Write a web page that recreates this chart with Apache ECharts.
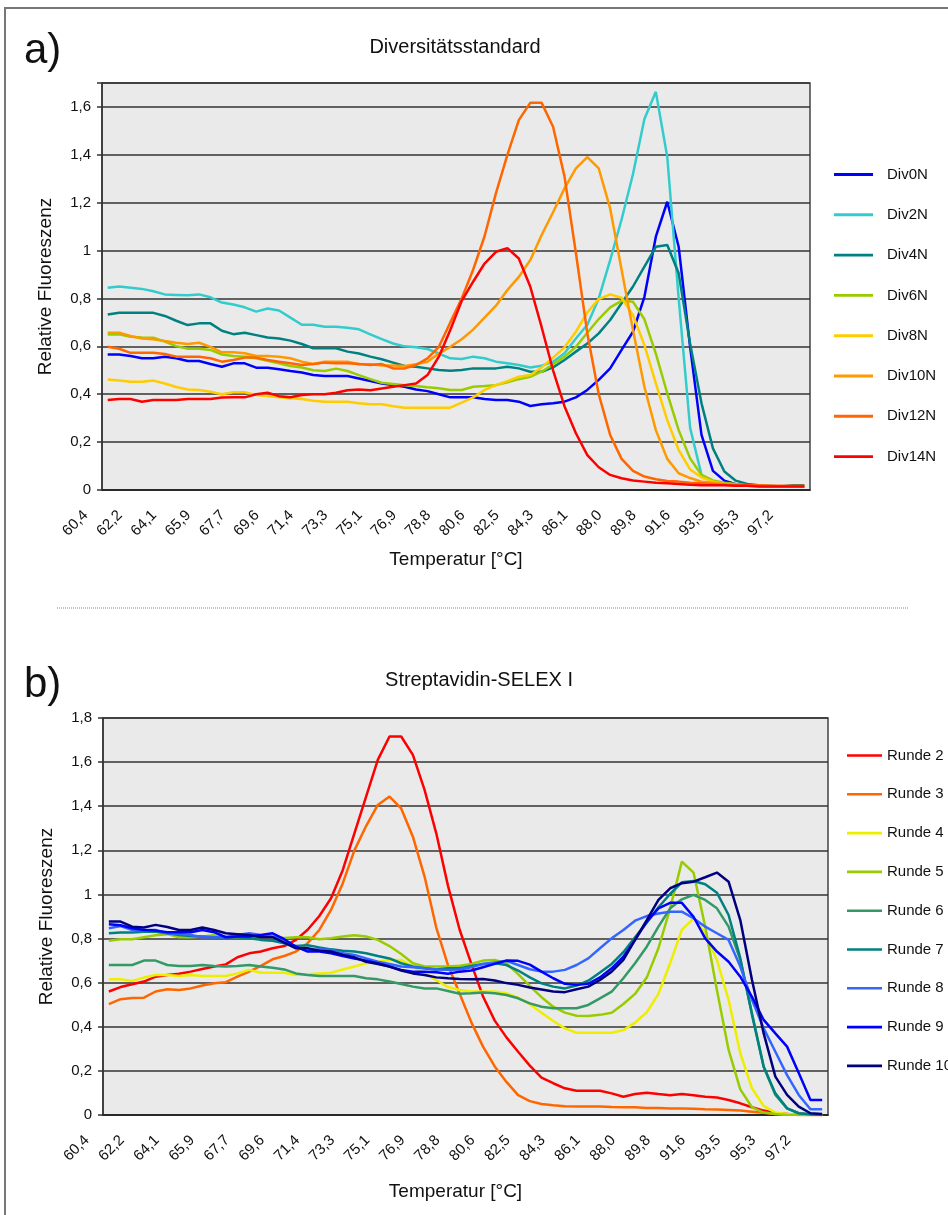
<!DOCTYPE html>
<html><head><meta charset="utf-8">
<script src="https://cdn.jsdelivr.net/npm/echarts@6/dist/echarts.min.js"></script>
<style>html,body{margin:0;padding:0;background:#fff}#c{width:948px;height:1215px}</style>
</head><body><div id="c"></div>
<script>
// Temperature categories (°C)
const temps = [
 '60,4','61,0','61,6','62,2','62,8','63,5','64,1','64,7','65,3','65,9',
 '66,5','67,1','67,7','68,4','69,0','69,6','70,2','70,8','71,4','72,0',
 '72,6','73,3','73,9','74,5','75,1','75,7','76,3','76,9','77,5','78,2',
 '78,8','79,4','80,0','80,6','81,2','81,8','82,5','83,1','83,7','84,3',
 '84,9','85,5','86,1','86,7','87,4','88,0','88,6','89,2','89,8','90,4',
 '91,0','91,6','92,3','92,9','93,5','94,1','94,7','95,3','95,9','96,5',
 '97,2','97,8'];

// Panel a) Diversitätsstandard
const div0N = [
 0.566,0.566,0.56,0.55,0.55,0.557,0.55,0.539,0.539,0.526,
 0.515,0.529,0.529,0.511,0.511,0.504,0.497,0.491,0.48,0.476,
 0.476,0.476,0.466,0.455,0.445,0.438,0.431,0.42,0.413,0.40,
 0.387,0.387,0.387,0.38,0.376,0.376,0.369,0.351,0.358,0.362,
 0.369,0.387,0.418,0.46,0.508,0.585,0.661,0.807,1.058,1.204,
 1.016,0.598,0.23,0.08,0.039,0.024,0.02,0.018,0.015,0.015,
 0.015,0.015];
const div2N = [
 0.845,0.85,0.845,0.84,0.83,0.817,0.815,0.813,0.817,0.805,
 0.783,0.775,0.763,0.745,0.758,0.75,0.72,0.69,0.69,0.682,
 0.682,0.678,0.671,0.65,0.63,0.612,0.60,0.596,0.589,0.57,
 0.55,0.547,0.557,0.55,0.536,0.529,0.522,0.512,0.519,0.536,
 0.571,0.633,0.69,0.80,0.96,1.13,1.32,1.55,1.663,1.392,
 0.80,0.26,0.063,0.03,0.025,0.02,0.02,0.018,0.018,0.015,
 0.015,0.015];
const div4N = [
 0.733,0.74,0.74,0.74,0.74,0.727,0.707,0.689,0.696,0.696,
 0.665,0.651,0.657,0.647,0.637,0.633,0.624,0.61,0.592,0.592,
 0.592,0.578,0.57,0.557,0.546,0.532,0.518,0.515,0.508,0.501,
 0.498,0.501,0.508,0.508,0.508,0.515,0.508,0.494,0.494,0.512,
 0.543,0.578,0.612,0.654,0.71,0.78,0.85,0.933,1.016,1.023,
 0.905,0.612,0.362,0.174,0.077,0.039,0.025,0.02,0.015,0.015,
 0.02,0.02];
const div6N = [
 0.65,0.65,0.64,0.637,0.636,0.62,0.601,0.59,0.59,0.585,
 0.566,0.56,0.557,0.55,0.54,0.529,0.518,0.512,0.50,0.497,
 0.507,0.497,0.48,0.463,0.448,0.443,0.438,0.434,0.429,0.425,
 0.418,0.418,0.431,0.434,0.438,0.45,0.463,0.473,0.494,0.525,
 0.557,0.598,0.657,0.714,0.763,0.79,0.786,0.713,0.57,0.404,
 0.25,0.132,0.063,0.04,0.03,0.025,0.02,0.018,0.015,0.015,
 0.015,0.015];
const div8N = [
 0.462,0.457,0.452,0.452,0.457,0.445,0.43,0.42,0.418,0.41,
 0.40,0.408,0.408,0.397,0.393,0.387,0.383,0.38,0.373,0.369,
 0.369,0.369,0.362,0.358,0.358,0.35,0.344,0.344,0.344,0.344,
 0.344,0.365,0.387,0.418,0.438,0.455,0.473,0.48,0.512,0.553,
 0.596,0.661,0.742,0.797,0.817,0.803,0.73,0.605,0.445,0.292,
 0.167,0.086,0.053,0.035,0.025,0.02,0.018,0.015,0.015,0.015,
 0.015,0.015];
const div10N = [
 0.657,0.657,0.643,0.633,0.63,0.622,0.615,0.61,0.615,0.598,
 0.575,0.575,0.571,0.56,0.56,0.557,0.55,0.536,0.526,0.536,
 0.536,0.536,0.525,0.525,0.52,0.52,0.518,0.525,0.536,0.57,
 0.598,0.63,0.67,0.72,0.77,0.835,0.89,0.96,1.065,1.16,
 1.26,1.343,1.39,1.343,1.176,0.92,0.668,0.43,0.25,0.13,
 0.07,0.05,0.035,0.03,0.025,0.02,0.02,0.018,0.018,0.015,
 0.015,0.015];
const div12N = [
 0.598,0.59,0.573,0.573,0.573,0.568,0.557,0.557,0.557,0.55,
 0.536,0.543,0.553,0.553,0.543,0.536,0.529,0.522,0.526,0.532,
 0.529,0.529,0.526,0.522,0.526,0.508,0.508,0.522,0.55,0.598,
 0.70,0.80,0.92,1.06,1.24,1.40,1.545,1.617,1.617,1.517,
 1.31,0.99,0.654,0.40,0.23,0.13,0.08,0.056,0.045,0.038,
 0.035,0.03,0.028,0.025,0.022,0.02,0.02,0.02,0.018,0.018,
 0.018,0.018];
const div14N = [
 0.376,0.38,0.38,0.369,0.376,0.376,0.376,0.38,0.38,0.38,
 0.386,0.387,0.387,0.40,0.406,0.392,0.387,0.397,0.40,0.40,
 0.406,0.417,0.42,0.417,0.424,0.431,0.438,0.445,0.48,0.557,
 0.668,0.79,0.87,0.946,0.995,1.01,0.967,0.85,0.68,0.50,
 0.35,0.237,0.146,0.095,0.063,0.049,0.04,0.035,0.03,0.028,
 0.025,0.022,0.02,0.02,0.02,0.018,0.018,0.015,0.015,0.015,
 0.015,0.015];

// Panel b) Streptavidin-SELEX I
const runde2 = [
 0.56,0.58,0.593,0.605,0.627,0.635,0.64,0.65,0.662,0.673,
 0.683,0.715,0.733,0.741,0.756,0.766,0.794,0.84,0.902,0.983,
 1.11,1.277,1.444,1.61,1.716,1.716,1.633,1.474,1.277,1.04,
 0.84,0.685,0.537,0.428,0.352,0.287,0.224,0.169,0.144,0.121,
 0.11,0.11,0.11,0.098,0.083,0.095,0.101,0.095,0.09,0.095,
 0.09,0.083,0.079,0.068,0.053,0.035,0.02,0.008,0.004,0,
 0,0];
const runde3 = [
 0.503,0.525,0.53,0.532,0.56,0.57,0.567,0.574,0.587,0.597,
 0.602,0.627,0.65,0.676,0.706,0.721,0.741,0.779,0.839,0.93,
 1.05,1.20,1.31,1.406,1.444,1.39,1.262,1.081,0.85,0.68,
 0.55,0.42,0.31,0.22,0.15,0.09,0.063,0.05,0.044,0.04,
 0.038,0.038,0.038,0.036,0.035,0.035,0.032,0.032,0.03,0.03,
 0.028,0.026,0.025,0.023,0.02,0.015,0.01,0.005,0.003,0,
 0,0];
const runde4 = [
 0.615,0.615,0.608,0.623,0.635,0.635,0.63,0.635,0.63,0.63,
 0.63,0.642,0.658,0.645,0.645,0.645,0.635,0.638,0.642,0.645,
 0.66,0.673,0.688,0.695,0.703,0.703,0.673,0.642,0.612,0.58,
 0.567,0.56,0.56,0.56,0.552,0.532,0.502,0.464,0.426,0.393,
 0.373,0.373,0.373,0.373,0.385,0.419,0.466,0.549,0.688,0.839,
 0.892,0.824,0.703,0.522,0.28,0.121,0.041,0.011,0.005,0,
 0,0];
const runde5 = [
 0.79,0.797,0.797,0.806,0.815,0.82,0.806,0.806,0.809,0.815,
 0.809,0.806,0.806,0.806,0.806,0.803,0.806,0.806,0.797,0.801,
 0.809,0.815,0.809,0.794,0.766,0.73,0.688,0.673,0.673,0.673,
 0.677,0.685,0.70,0.703,0.688,0.639,0.585,0.534,0.491,0.464,
 0.45,0.449,0.454,0.464,0.503,0.549,0.623,0.756,0.937,1.149,
 1.099,0.854,0.567,0.295,0.116,0.035,0.011,0.005,0,0,
 0,0];
const runde6 = [
 0.68,0.68,0.68,0.70,0.70,0.68,0.676,0.676,0.68,0.676,
 0.673,0.676,0.68,0.673,0.668,0.66,0.642,0.635,0.63,0.63,
 0.63,0.63,0.62,0.615,0.605,0.594,0.582,0.574,0.574,0.562,
 0.55,0.552,0.555,0.552,0.544,0.529,0.506,0.491,0.484,0.484,
 0.484,0.499,0.529,0.559,0.62,0.688,0.763,0.854,0.937,0.978,
 0.998,0.975,0.937,0.854,0.703,0.461,0.219,0.091,0.03,0.008,
 0.003,0];
const runde7 = [
 0.824,0.828,0.828,0.831,0.831,0.824,0.816,0.812,0.809,0.806,
 0.806,0.806,0.801,0.794,0.79,0.779,0.766,0.77,0.76,0.751,
 0.745,0.741,0.733,0.721,0.71,0.688,0.673,0.665,0.66,0.665,
 0.665,0.676,0.685,0.688,0.68,0.655,0.624,0.597,0.582,0.574,
 0.587,0.609,0.646,0.685,0.738,0.806,0.872,0.942,1.002,1.055,
 1.061,1.046,1.008,0.907,0.711,0.454,0.219,0.098,0.03,0.008,
 0.003,0];
const runde8 = [
 0.847,0.857,0.839,0.839,0.839,0.824,0.821,0.816,0.806,0.806,
 0.806,0.816,0.824,0.816,0.809,0.794,0.763,0.745,0.751,0.748,
 0.733,0.726,0.71,0.695,0.685,0.673,0.67,0.665,0.66,0.658,
 0.66,0.67,0.685,0.692,0.699,0.68,0.661,0.65,0.65,0.658,
 0.68,0.71,0.756,0.801,0.839,0.881,0.902,0.914,0.922,0.922,
 0.892,0.854,0.824,0.794,0.673,0.522,0.393,0.287,0.181,0.091,
 0.026,0.026];
const runde9 = [
 0.865,0.86,0.847,0.839,0.836,0.829,0.829,0.829,0.839,0.829,
 0.806,0.809,0.809,0.816,0.824,0.797,0.763,0.741,0.741,0.733,
 0.721,0.71,0.70,0.688,0.673,0.658,0.65,0.65,0.647,0.64,
 0.65,0.655,0.67,0.685,0.70,0.699,0.682,0.65,0.62,0.595,
 0.59,0.595,0.624,0.665,0.718,0.794,0.877,0.937,0.962,0.962,
 0.899,0.801,0.741,0.695,0.627,0.536,0.431,0.37,0.31,0.19,
 0.068,0.068];
const runde10 = [
 0.877,0.877,0.854,0.85,0.862,0.852,0.839,0.839,0.85,0.839,
 0.824,0.82,0.816,0.806,0.806,0.782,0.756,0.756,0.745,0.741,
 0.726,0.715,0.695,0.685,0.673,0.655,0.642,0.635,0.624,0.62,
 0.617,0.615,0.617,0.61,0.598,0.59,0.578,0.569,0.56,0.557,
 0.57,0.582,0.612,0.65,0.703,0.794,0.884,0.975,1.028,1.051,
 1.058,1.078,1.099,1.058,0.884,0.612,0.37,0.174,0.091,0.038,
 0.008,0.005];

const namesA = ['Div0N','Div2N','Div4N','Div6N','Div8N','Div10N','Div12N','Div14N'];
const dataA = [div0N,div2N,div4N,div6N,div8N,div10N,div12N,div14N];
const colorsA = ['#0000FF','#33CCCC','#008080','#99CC00','#FFCC00','#FF9900','#FF6600','#FF0000'];
const namesB = ['Runde 2','Runde 3','Runde 4','Runde 5','Runde 6','Runde 7','Runde 8','Runde 9','Runde 10'];
const dataB = [runde2,runde3,runde4,runde5,runde6,runde7,runde8,runde9,runde10];
const colorsB = ['#FF0000','#FF6600','#EEEE00','#99CC00','#339966','#008080','#3366FF','#0000FF','#000080'];

const FONT = '"Liberation Sans", Arial, Helvetica, sans-serif';
const TXT = '#111';
const LEG_ICON = 'path://M0,0 L40,0 L40,3 L0,3 Z';

function yAxis(gi, max) {
  return {
    type: 'value', gridIndex: gi, min: 0, max: max, interval: 0.2,
    axisLine: {show: true, lineStyle: {color: '#333', width: 1.5}},
    axisTick: {show: true, length: 5, lineStyle: {color: '#333', width: 1.5}},
    axisLabel: {margin: 11, fontSize: 15, color: TXT, fontFamily: FONT,
      formatter: v => (Math.abs(v - max) < 1e-6 && max === 1.7) ? '' : String(Math.round(v * 10) / 10).replace('.', ',')},
    splitLine: {show: true, lineStyle: {color: '#333', width: 1.6}},
    name: 'Relative Fluoreszenz', nameLocation: 'middle', nameGap: 47,
    nameTextStyle: {fontSize: 19, color: TXT, fontFamily: FONT}
  };
}
function xAxis(gi, gap, pad) {
  return {
    type: 'category', gridIndex: gi, data: temps, boundaryGap: true,
    axisLine: {lineStyle: {color: '#222', width: 1.5}},
    axisTick: {interval: 0, length: 5, lineStyle: {color: '#222', width: 1.5}},
    axisLabel: {interval: 2, rotate: 45, margin: 1, padding: [0, 31, 0, 0], fontSize: 15, color: TXT, fontFamily: FONT},
    splitLine: {show: false},
    name: 'Temperatur [°C]', nameLocation: 'middle', nameGap: gap,
    nameTextStyle: {fontSize: 19, color: TXT, fontFamily: FONT, padding: pad}
  };
}

const series = [];
namesA.forEach((n, i) => series.push({
  name: n, type: 'line', xAxisIndex: 0, yAxisIndex: 0, data: dataA[i],
  symbol: 'none', color: colorsA[i], lineStyle: {width: 2.5, color: colorsA[i]}, animation: false
}));
namesB.forEach((n, i) => series.push({
  name: n, type: 'line', xAxisIndex: 1, yAxisIndex: 1, data: dataB[i],
  symbol: 'none', color: colorsB[i], lineStyle: {width: 2.5, color: colorsB[i]}, animation: false
}));

const chart = echarts.init(document.getElementById('c'), null, {renderer: 'canvas'});
chart.setOption({
  animation: false,
  backgroundColor: '#fff',
  textStyle: {fontFamily: FONT},
  title: [
    {text: 'a)', left: 24, top: 30, padding: 0, textStyle: {fontSize: 42, fontWeight: 'normal', color: TXT, fontFamily: FONT}},
    {text: 'Diversitätsstandard', left: 455, top: 37, padding: 0, textAlign: 'center', textStyle: {fontSize: 20, fontWeight: 'normal', color: TXT, fontFamily: FONT}},
    {text: 'b)', left: 24, top: 664, padding: 0, textStyle: {fontSize: 42, fontWeight: 'normal', color: TXT, fontFamily: FONT}},
    {text: 'Streptavidin-SELEX I', left: 479, top: 670, padding: 0, textAlign: 'center', textStyle: {fontSize: 20, fontWeight: 'normal', color: TXT, fontFamily: FONT}}
  ],
  grid: [
    {left: 102, top: 83, width: 708, height: 407, show: true, backgroundColor: '#EAEAEA', borderColor: '#444', borderWidth: 1.5},
    {left: 103, top: 718, width: 725, height: 397, show: true, backgroundColor: '#EAEAEA', borderColor: '#444', borderWidth: 1.5}
  ],
  xAxis: [xAxis(0, 60, 0), xAxis(1, 67, [0, 20, 0, 0])],
  yAxis: [yAxis(0, 1.7), yAxis(1, 1.8)],
  legend: [
    {data: namesA.map(n => ({name: n, icon: LEG_ICON})), orient: 'vertical', left: 834, top: 167, padding: 0,
     itemWidth: 39, itemHeight: 14, itemGap: 25.3,
     textStyle: {fontSize: 15, color: TXT, fontFamily: FONT, padding: [0, 0, 0, 9]}, selectedMode: false},
    {data: namesB.map(n => ({name: n, icon: LEG_ICON})), orient: 'vertical', left: 847, top: 748, padding: 0,
     itemWidth: 35, itemHeight: 14, itemGap: 23.8,
     textStyle: {fontSize: 15, color: TXT, fontFamily: FONT}, selectedMode: false}
  ],
  graphic: [
    {type: 'rect', silent: true, z: -10, shape: {x: 5, y: 8, width: 1000, height: 1300},
     style: {fill: 'transparent', stroke: '#777', lineWidth: 2}},
    {type: 'line', silent: true, shape: {x1: 57, y1: 608, x2: 908, y2: 608},
     style: {stroke: '#888', lineWidth: 1, lineDash: [1, 1]}}
  ],
  series: series
});
</script>
</body></html>
